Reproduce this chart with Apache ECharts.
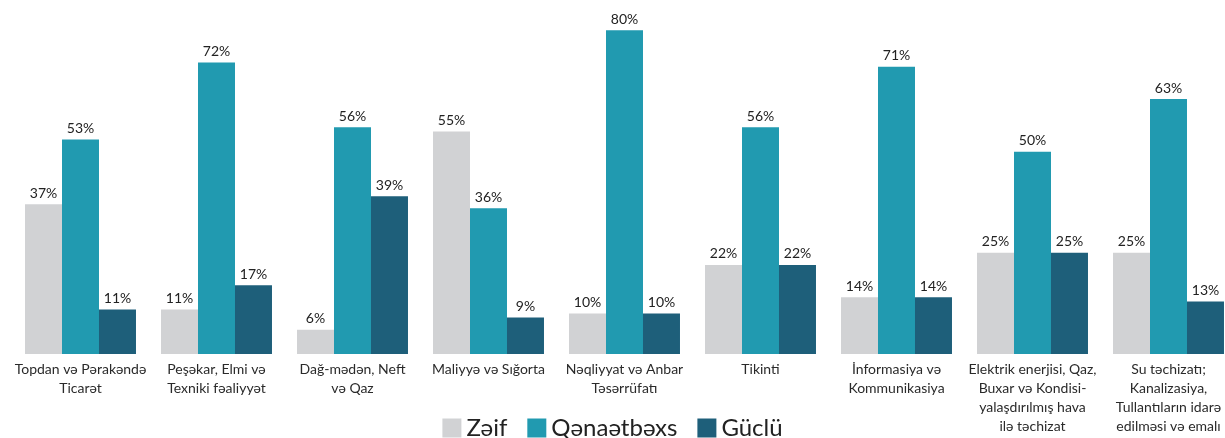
<!DOCTYPE html>
<html>
<head>
<meta charset="utf-8">
<script src="https://cdn.jsdelivr.net/npm/echarts@6/dist/echarts.min.js"></script>
<style>
  html, body { margin: 0; padding: 0; background: #fff; }
  #chart { width: 1225px; height: 438px; }
</style>
</head>
<body>
<div id="chart"></div>
<script>
const categories = [
  'Topdan və Pərakəndə\nTicarət',
  'Peşəkar, Elmi və\nTexniki fəaliyyət',
  'Dağ-mədən, Neft\nvə Qaz',
  'Maliyyə və Sığorta',
  'Nəqliyyat və Anbar\nTəsərrüfatı',
  'Tikinti',
  'İnformasiya və\nKommunikasiya',
  'Elektrik enerjisi, Qaz,\nBuxar və Kondisi-\nyalaşdırılmış hava\nilə təchizat',
  'Su təchizatı;\nKanalizasiya,\nTullantıların idarə\nedilməsi və emalı'
]
const zeif = [37, 11, 6, 55, 10, 22, 14, 25, 25]
const qenaetbexs = [53, 72, 56, 36, 80, 56, 71, 50, 63]
const guclu = [11, 17, 39, 9, 10, 22, 14, 25, 13]

const font = 'Lato, "Noto Sans", sans-serif'
const myChart = echarts.init(document.getElementById('chart'))

const label = {
  show: true,
  position: 'top',
  distance: 4,
  formatter: '{c}%',
  color: '#222',
  fontSize: 14,
  fontFamily: font
}

const option = {
  animation: false,
  textStyle: { fontFamily: font },
  legend: {
    bottom: -2,
    padding: 0,
    left: 'center',
    itemWidth: 19,
    itemHeight: 19,
    itemGap: 20,
    icon: 'rect',
    textStyle: { fontSize: 24, color: '#222', fontFamily: font },
    data: ['Zəif', 'Qənaətbəxs', 'Güclü']
  },
  grid: {
    left: 12.5,
    right: -11.5,
    top: 10,
    height: 344,
    outerBoundsMode: 'none',
    containLabel: false
  },
  xAxis: {
    type: 'category',
    data: categories,
    axisLine: { show: false },
    axisTick: { show: false },
    axisLabel: {
      interval: 0,
      margin: 6,
      color: '#2a2a2a',
      fontSize: 14,
      lineHeight: 19,
      fontFamily: font
    }
  },
  yAxis: {
    type: 'value',
    min: 0,
    max: 85,
    show: false,
    splitLine: { show: false }
  },
  series: [
    {
      name: 'Zəif',
      type: 'bar',
      data: zeif,
      barGap: '0%',
      barCategoryGap: '18.4%',
      color: '#d1d2d4',
      label: label
    },
    {
      name: 'Qənaətbəxs',
      type: 'bar',
      data: qenaetbexs,
      color: '#219ab0',
      label: label
    },
    {
      name: 'Güclü',
      type: 'bar',
      data: guclu,
      color: '#1e5f7a',
      label: label
    }
  ]
}
myChart.setOption(option)
</script>
</body>
</html>
